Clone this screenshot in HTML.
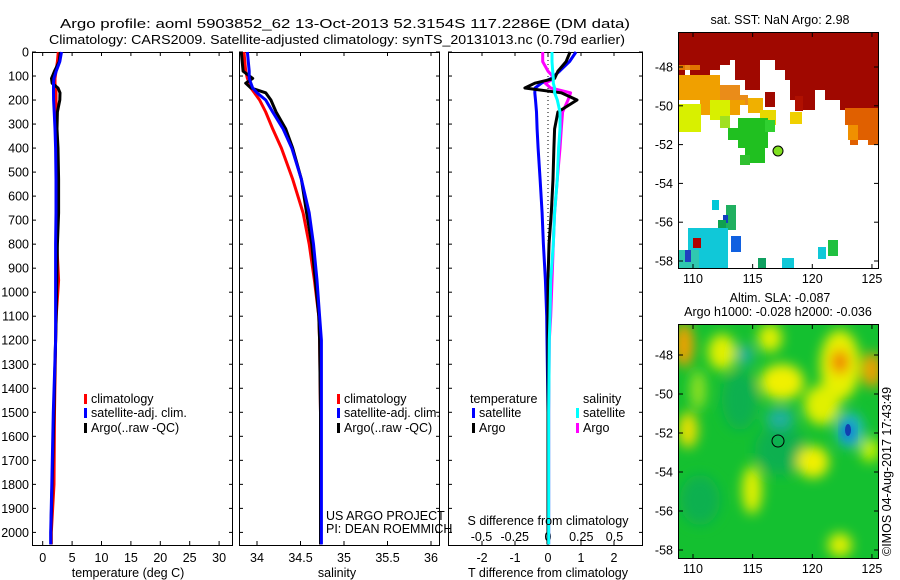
<!DOCTYPE html>
<html><head><meta charset="utf-8">
<style>
body{margin:0;background:#fff;}
svg{display:block;font-family:"Liberation Sans",sans-serif;}
text{font-size:12.5px;fill:#000;}
</style></head>
<body>
<svg id="chart" width="900" height="580" viewBox="0 0 900 580" xmlns="http://www.w3.org/2000/svg">
<defs>
<filter id="blur" x="-50%" y="-50%" width="200%" height="200%"><feGaussianBlur stdDeviation="6"/></filter>
<clipPath id="clipB"><rect x="679" y="325" width="199" height="233"/></clipPath>
<clipPath id="clipA"><rect x="679" y="33" width="199" height="235"/></clipPath>
</defs>
<text x="60" y="28" font-size="15" textLength="570" lengthAdjust="spacingAndGlyphs">Argo profile: aoml 5903852_62 13-Oct-2013 52.3154S 117.2286E (DM data)</text>
<text x="49" y="44" font-size="15" textLength="576" lengthAdjust="spacingAndGlyphs">Climatology: CARS2009. Satellite-adjusted climatology: synTS_20131013.nc (0.79d earlier)</text>
<g id="panels"></g>
<!-- SST map -->
<g clip-path="url(#clipA)">
<rect x="679" y="33" width="199" height="235" fill="#fff"/>
<path d="M679 33H878V120H865V115H845V110H840V100H825V90H815V110H800V100H790V80H785V70H775V60H760V90H745V80H735V60H730V65H720V70H710V90H700V75H690V65H685V80H679Z" fill="#a00800"/>
<rect x="765" y="92" width="10" height="15" fill="#a00800"/>
<rect x="795" y="96" width="8" height="15" fill="#b01000"/>
<path d="M679 70H700V95H710V110H735V100H745V105H748V95H740V85H720V75H700V65H679Z" fill="#e88000" opacity="0.9"/>
<path d="M679 75H720V100H745V105H740V115H700V100H679Z" fill="#f0a000"/>
<rect x="679" y="104" width="22" height="28" fill="#d8f000"/>
<rect x="710" y="100" width="20" height="20" fill="#d8f000"/>
<rect x="748" y="98" width="15" height="15" fill="#f0b000"/>
<rect x="760" y="110" width="16" height="15" fill="#e8d800"/>
<rect x="790" y="112" width="12" height="12" fill="#f0d000"/>
<path d="M845 108H878V145H868V140H858V145H850V125H845Z" fill="#e06000"/>
<rect x="848" y="125" width="10" height="15" fill="#f09000"/>
<rect x="738" y="118" width="30" height="30" fill="#20c020"/>
<rect x="728" y="128" width="20" height="12" fill="#20c020"/>
<rect x="745" y="145" width="20" height="18" fill="#20c020"/>
<rect x="740" y="155" width="10" height="10" fill="#30c030"/>
<rect x="765" y="120" width="10" height="12" fill="#30d030"/>
<rect x="720" y="116" width="10" height="12" fill="#a0e020"/>
<rect x="712" y="200" width="7" height="10" fill="#00c8d8"/>
<rect x="726" y="205" width="10" height="25" fill="#20b060"/>
<rect x="723" y="215" width="5" height="8" fill="#1040c0"/>
<rect x="718" y="220" width="8" height="10" fill="#10a050"/>
<rect x="731" y="236" width="10" height="16" fill="#1060e0"/>
<rect x="688" y="228" width="40" height="40" fill="#10c8d8"/>
<rect x="679" y="250" width="20" height="18" fill="#30c8b0"/>
<rect x="693" y="238" width="8" height="10" fill="#b00000"/>
<rect x="685" y="250" width="6" height="12" fill="#2040c0"/>
<rect x="758" y="258" width="8" height="10" fill="#10a060"/>
<rect x="782" y="258" width="12" height="10" fill="#10c8d8"/>
<rect x="818" y="247" width="8" height="12" fill="#10c8d8"/>
<rect x="828" y="240" width="10" height="16" fill="#20c040"/>
</g>
<circle cx="778" cy="151" r="5" fill="#80e020" stroke="#000"/>
<rect x="678.5" y="32.5" width="200" height="236" fill="none" stroke="#000"/>
<text x="780" y="24" text-anchor="middle" font-size="13.5">sat. SST: NaN Argo: 2.98</text>
<!-- SLA map -->
<g clip-path="url(#clipB)">
<rect x="679" y="325" width="199" height="233" fill="#14c030"/>
<g filter="url(#blur)">
<ellipse cx="740" cy="400" rx="18" ry="30" fill="#10b050"/>
<ellipse cx="780" cy="450" rx="25" ry="25" fill="#10b050"/>
<ellipse cx="700" cy="500" rx="20" ry="25" fill="#10b050"/>
<ellipse cx="684" cy="345" rx="10" ry="22" fill="#f0a000"/>
<ellipse cx="688" cy="430" rx="10" ry="18" fill="#e8e000"/>
<ellipse cx="698" cy="390" rx="8" ry="20" fill="#90e020"/>
<ellipse cx="722" cy="352" rx="14" ry="18" fill="#e0f000"/>
<ellipse cx="770" cy="338" rx="12" ry="14" fill="#e0f000"/>
<ellipse cx="782" cy="382" rx="22" ry="18" fill="#f0f000"/>
<ellipse cx="840" cy="365" rx="20" ry="35" fill="#e8f000"/>
<ellipse cx="840" cy="362" rx="9" ry="12" fill="#f08000"/>
<ellipse cx="872" cy="370" rx="10" ry="18" fill="#f0a000"/>
<ellipse cx="822" cy="405" rx="18" ry="20" fill="#e0f000"/>
<ellipse cx="813" cy="462" rx="16" ry="16" fill="#f0f000"/>
<ellipse cx="752" cy="490" rx="10" ry="24" fill="#e0f000"/>
<ellipse cx="840" cy="545" rx="12" ry="12" fill="#e0f000"/>
<ellipse cx="870" cy="450" rx="10" ry="12" fill="#c0f000"/>
<ellipse cx="850" cy="430" rx="14" ry="18" fill="#20b8c0"/>
<ellipse cx="780" cy="418" rx="14" ry="10" fill="#20b0a0"/>
<ellipse cx="745" cy="355" rx="8" ry="10" fill="#20b0a0"/>
</g>
<ellipse cx="848" cy="432" rx="5" ry="9" fill="#1060e0" filter="url(#blur)"/>
<ellipse cx="848" cy="430" rx="3" ry="6" fill="#1040b0"/>
</g>
<circle cx="778" cy="441" r="6" fill="none" stroke="#000"/>
<rect x="678.5" y="324.5" width="200" height="234" fill="none" stroke="#000"/>
<text x="780" y="302" text-anchor="middle" font-size="13">Altim. SLA: -0.087</text>
<text x="778" y="316" text-anchor="middle" font-size="13">Argo h1000: -0.028 h2000: -0.036</text>
<text transform="translate(891,556) rotate(-90)" font-size="12.5">©IMOS 04-Aug-2017 17:43:49</text>
<g id="maps-axes"></g>
</svg>
<script>
// ---- data ----
const depthTicks = [0,100,200,300,400,500,600,700,800,900,1000,1100,1200,1300,1400,1500,1600,1700,1800,1900,2000];
const tempTicks = [0,5,10,15,20,25,30];
const salTicks = [34,34.5,35,35.5,36];
const salTickLabels = ["34","34.5","35","35.5","36"];
const tdiffTicks = [-2,-1,0,1,2];
const sdiffTicks = [-0.5,-0.25,0,0.25,0.5];
const sdiffTickLabels = ["-0.5","-0.25","0","0.25","0.5"];
const lonTicks = [110,115,120,125];
const latTicks = [-48,-50,-52,-54,-56,-58];

const depths = [0,40,80,110,130,150,170,200,250,320,400,530,670,800,950,1100,1200,1500,1800,2000,2050];
const tempClim = [2.66,2.5,2.26,2.1,2.1,2.2,2.26,2.26,2.3,2.3,2.3,2.3,2.3,2.4,2.7,2.3,2.2,2.0,1.92,1.46,1.46];
const tempSat  = [3.2,2.9,2.3,1.9,1.83,1.83,1.83,1.85,1.95,2.1,2.2,2.26,2.26,2.2,2.2,2.2,2.2,1.8,1.55,1.36,1.36];
const tempArgo = [3.0,2.8,2.0,1.5,1.6,2.6,2.94,2.9,2.5,2.44,2.6,2.7,2.7,2.5,2.4,2.3,2.2,1.9,1.6,1.4,1.4];
const salClim = [33.85,33.86,33.87,33.89,33.91,33.93,33.97,34.03,34.1,34.18,34.28,34.41,34.53,34.6,34.66,34.71,34.72,34.73,34.73,34.73,34.73];
const salSat  = [33.89,33.9,33.91,33.91,33.93,33.95,34.0,34.1,34.18,34.3,34.4,34.51,34.6,34.65,34.69,34.72,34.74,34.74,34.74,34.74,34.74];
const salArgo = [33.82,33.83,33.84,33.95,33.87,33.93,34.1,34.16,34.22,34.33,34.41,34.51,34.57,34.63,34.67,34.71,34.72,34.73,34.73,34.73,34.73];
const tdiffSat  = [0.85,0.65,0.35,0.1,-0.2,-0.39,-0.4,-0.38,-0.35,-0.33,-0.3,-0.24,-0.18,-0.14,-0.08,-0.04,-0.03,0,0,0,0];
const tdiffArgo = [0.67,0.55,0.3,0.2,-0.4,-0.7,0.4,0.88,0.3,0.2,0.18,0.15,0.1,0.03,0.0,0.0,0.0,0.0,0.0,0.0,0.0];
const sdiffArgo = [-0.04,-0.04,0.0,0.05,-0.02,0.02,0.17,0.15,0.11,0.1,0.09,0.07,0.05,0.04,0.03,0.02,0.01,0.005,0.005,0.005,0.005];
const sdiffSat  = [0.03,0.03,0.035,0.04,0.04,0.05,0.05,0.07,0.09,0.09,0.08,0.07,0.05,0.04,0.02,0.015,0.01,0.005,0.005,0.005,0.005];

const NS='http://www.w3.org/2000/svg';
const root=document.getElementById('panels');
function el(tag,attrs,parent){const e=document.createElementNS(NS,tag);for(const k in attrs)e.setAttribute(k,attrs[k]);(parent||root).appendChild(e);return e;}
const yOf=d=>52+d*0.2402;
const P1={x0:32,x1:232,sx:v=>42.7+v*5.88};
const P2={x0:239,x1:439,sx:v=>257+(v-34)*87};
const P3={x0:448,x1:642,sx:v=>548+v*33,ss:v=>548+v*133};
const TOP=52,BOT=545;

function frame(P,name){
  const r=el('rect',{x:P.x0+0.5,y:TOP+0.5,width:P.x1-P.x0,height:BOT-TOP,fill:'none',stroke:'#000'});
  
  
}
function line(P,sx,vals,color,w,name){
  const pts=depths.map((d,i)=>sx(vals[i]).toFixed(1)+','+yOf(d).toFixed(1)).join(' ');
  const p=el('polyline',{points:pts,fill:'none',stroke:color,'stroke-width':w,'stroke-linejoin':'round'});
  
  
}
function xTicks(P,sx,ticks,labels,y,top){
  ticks.forEach((t,i)=>{
    const x=sx(t);
    el('line',{x1:x,x2:x,y1:BOT,y2:BOT-4,stroke:'#000'});
    if(top) el('line',{x1:x,x2:x,y1:TOP,y2:TOP+4,stroke:'#000'});
    const tx=el('text',{x:x,y:y,'text-anchor':'middle'});
    tx.textContent=labels?labels[i]:String(t);
    
    
  });
}
function depthTickMarks(P,labels){
  depthTicks.forEach(d=>{
    const y=yOf(d);
    el('line',{x1:P.x0,x2:P.x0+4,y1:y,y2:y,stroke:'#000'});
    el('line',{x1:P.x1-3,x2:P.x1+1,y1:y,y2:y,stroke:'#000'});
    if(labels){const t=el('text',{x:P.x0-3,y:y+4.5,'text-anchor':'end'});t.textContent=d;
      
      }
  });
}
function legendItem(x,y,color,label){
  el('rect',{x:x,y:y-9,width:3,height:10,fill:color});
  const t=el('text',{x:x+7,y:y});t.textContent=label;
  
  
}
// Panel 1
frame(P1,'temperature-panel');depthTickMarks(P1,true);
xTicks(P1,P1.sx,tempTicks,null,562,true);
line(P1,P1.sx,tempClim,'#f00',3,'temperature-climatology-line');
line(P1,P1.sx,tempArgo,'#000',3,'temperature-argo-line');
line(P1,P1.sx,tempSat,'#00f',3,'temperature-satellite-line');
let t=el('text',{x:128,y:577,'text-anchor':'middle'});t.textContent='temperature (deg C)';

legendItem(84,403,'#f00','climatology');legendItem(84,417,'#00f','satellite-adj. clim.');legendItem(84,432,'#000','Argo(..raw -QC)');
// Panel 2
frame(P2,'salinity-panel');depthTickMarks(P2,false);
xTicks(P2,P2.sx,salTicks,salTickLabels,562,true);
line(P2,P2.sx,salClim,'#f00',3,'salinity-climatology-line');
line(P2,P2.sx,salArgo,'#000',3,'salinity-argo-line');
line(P2,P2.sx,salSat,'#00f',3,'salinity-satellite-line');
t=el('text',{x:337,y:577,'text-anchor':'middle'});t.textContent='salinity';

legendItem(337,403,'#f00','climatology');legendItem(337,417,'#00f','satellite-adj. clim.');legendItem(337,432,'#000','Argo(..raw -QC)');
t=el('text',{x:326,y:520});t.textContent='US ARGO PROJECT';
t=el('text',{x:326,y:533});t.textContent='PI: DEAN ROEMMICH';
// Panel 3
frame(P3,'difference-panel');depthTickMarks(P3,false);
xTicks(P3,P3.sx,tdiffTicks,null,562,true);
sdiffTicks.forEach((s,i)=>{const x=P3.ss(s);const tx=el('text',{x:x,y:541,'text-anchor':'middle'});tx.textContent=sdiffTickLabels[i];
  });
el('line',{x1:548,x2:548,y1:TOP,y2:BOT,stroke:'#000','stroke-dasharray':'1,3'});
line(P3,P3.sx,tdiffSat,'#00f',3,'tdiff-satellite-line');
line(P3,P3.ss,sdiffArgo,'#f0f',3,'sdiff-argo-line');
line(P3,P3.sx,tdiffArgo,'#000',3,'tdiff-argo-line');
line(P3,P3.ss,sdiffSat,'#0ff',3,'sdiff-satellite-line');
t=el('text',{x:548,y:525,'text-anchor':'middle'});t.textContent='S difference from climatology';
t=el('text',{x:548,y:577,'text-anchor':'middle'});t.textContent='T difference from climatology';
t=el('text',{x:470,y:403});t.textContent='temperature';
t=el('text',{x:583,y:403});t.textContent='salinity';
legendItem(472,417,'#00f','satellite');legendItem(472,432,'#000','Argo');
legendItem(576,417,'#0ff','satellite');legendItem(576,432,'#f0f','Argo');
// map axes
const mg=document.getElementById('maps-axes');
const lonX=v=>693+(v-110)*11.93;
function mapAxes(y0,y1,latY){
  lonTicks.forEach(l=>{const x=lonX(l);
    el('line',{x1:x,x2:x,y1:y0,y2:y0+4,stroke:'#000'},mg);el('line',{x1:x,x2:x,y1:y1-4,y2:y1,stroke:'#000'},mg);
    const tx=el('text',{x:x,y:y1+15,'text-anchor':'middle'},mg);tx.textContent=l;
    });
  latTicks.forEach(l=>{const y=latY(l);
    el('line',{x1:679,x2:683,y1:y,y2:y,stroke:'#000'},mg);el('line',{x1:874,x2:878,y1:y,y2:y,stroke:'#000'},mg);
    const tx=el('text',{x:673,y:y+4.5,'text-anchor':'end'},mg);tx.textContent=l;
    });
}
mapAxes(33,268,l=>67+(-48-l)*19.4);
mapAxes(325,558,l=>355+(-48-l)*19.5);
</script>
</body></html>
